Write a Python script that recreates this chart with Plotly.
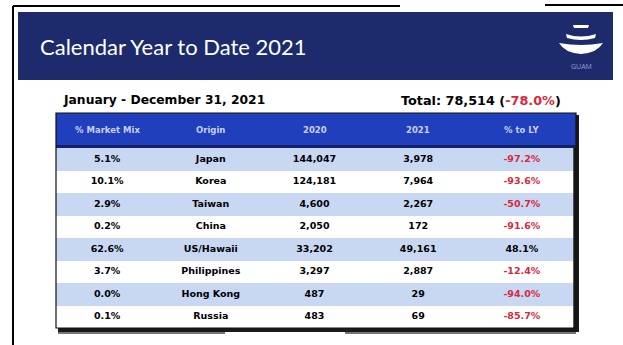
import plotly.graph_objects as go

# ---- data ----
columns = ["% Market Mix", "Origin", "2020", "2021", "% to LY"]
origins = ["Japan", "Korea", "Taiwan", "China", "US/Hawaii", "Philippines", "Hong Kong", "Russia"]
market_mix = ["5.1%", "10.1%", "2.9%", "0.2%", "62.6%", "3.7%", "0.0%", "0.1%"]
arrivals_2020 = [144047, 124181, 4600, 2050, 33202, 3297, 487, 483]
arrivals_2021 = [3978, 7964, 2267, 172, 49161, 2887, 29, 69]
pct_to_ly = [-97.2, -93.6, -50.7, -91.6, 48.1, -12.4, -94.0, -85.7]
total_2021 = 78514
total_change = -78.0
title = "Calendar Year to Date 2021"
period = "January - December 31, 2021"

W, H = 623, 345
NAVY = "#1d2a6c"
HEADER_BLUE = "#203fbd"
ROW_BLUE = "#c8d8f2"
RED = "#d8283c"

tbl_x0, tbl_x1, tbl_hdr, tbl_y0, tbl_y1 = 56, 576, 113, 148, 328


def b(s):
    return f"<b>{s}</b>"


col_text = [
    [b(v) for v in market_mix],
    [b(v) for v in origins],
    [b(f"{v:,}") for v in arrivals_2020],
    [b(f"{v:,}") for v in arrivals_2021],
    [b(f"{v:.1f}%") for v in pct_to_ly],
]
col_colors = [["black"] * len(origins) for _ in range(4)] + [
    [RED if v < 0 else "black" for v in pct_to_ly]
]

# row striping via heatmap on categorical axes
z = [[r % 2 for _ in columns] for r in range(len(origins))]
stripes = go.Heatmap(
    x=columns, y=origins, z=z,
    colorscale=[[0, ROW_BLUE], [1, "white"]], zmin=0, zmax=1,
    showscale=False, hoverinfo="skip", xaxis="x2", yaxis="y2",
)

xs, ys, texts, colors = [], [], [], []
for ci, col in enumerate(columns):
    for ri, org in enumerate(origins):
        xs.append(col)
        ys.append(org)
        texts.append(col_text[ci][ri])
        colors.append(col_colors[ci][ri])

labels = go.Scatter(
    x=xs, y=ys, text=texts, mode="text",
    textfont=dict(family="DejaVu Sans", size=9.5, color=colors),
    hoverinfo="skip", cliponaxis=False, xaxis="x2", yaxis="y2",
)

fig = go.Figure([stripes, labels])

shapes = [
    # outer scan border lines
    dict(type="line", x0=13, x1=13, y0=6, y1=345, line=dict(color="black", width=2)),
    dict(type="line", x0=13, x1=400, y0=6, y1=6, line=dict(color="black", width=2)),
    dict(type="line", x0=545, x1=623, y0=5, y1=5, line=dict(color="black", width=2)),
    # banner
    dict(type="rect", x0=18, x1=613, y0=12, y1=80, fillcolor=NAVY, line=dict(width=0), layer="below"),
    # logo
    dict(type="path", path="M 573 25 L 589 25 L 588 28 L 574 28 Z", fillcolor="white", line=dict(width=0)),
    dict(type="path", path="M 566 34 Q 581 39 596 34 L 595 38 Q 581 42 567 38 Z", fillcolor="white", line=dict(width=0)),
    dict(type="path", path="M 559 43 Q 581 47 603 43 Q 597 53 581 54 Q 565 53 559 43 Z", fillcolor="white", line=dict(width=0)),
    # table shadow, header band & frame
    dict(type="rect", x0=tbl_x0 + 2, x1=tbl_x1 + 3, y0=tbl_hdr + 2, y1=tbl_y1 + 4, fillcolor="#1a1a1a", line=dict(width=0), layer="below"),
    dict(type="rect", x0=tbl_x0, x1=tbl_x1, y0=tbl_hdr, y1=tbl_y0, fillcolor=HEADER_BLUE, line=dict(width=0)),
    dict(type="line", x0=tbl_x0, x1=tbl_x1, y0=tbl_y0 - 1.5, y1=tbl_y0 - 1.5, line=dict(color="#15206a", width=3)),
    dict(type="rect", x0=tbl_x0, x1=tbl_x1, y0=tbl_hdr, y1=tbl_y1, fillcolor="rgba(0,0,0,0)", line=dict(color="#111", width=1.2)),
    # blurred footnote lines
    dict(type="line", x0=58, x1=225, y0=333, y1=333, line=dict(color="#777", width=2)),
    dict(type="line", x0=345, x1=576, y0=333, y1=333, line=dict(color="#777", width=2)),
]
for s in shapes:
    s.update(xref="x", yref="y")

annotations = [
    dict(x=38, y=46, text=title, showarrow=False, xanchor="left", yanchor="middle",
         font=dict(family="Lato", size=22, color="white")),
    dict(x=581, y=66, text="GUAM", showarrow=False, xanchor="center", yanchor="middle",
         font=dict(family="Open Sans", size=7, color="#95a1cc")),
    dict(x=61, y=100, text=b(period), showarrow=False, xanchor="left", yanchor="middle",
         font=dict(family="DejaVu Sans", size=12.3, color="black")),
    dict(x=563, y=100,
         text=b(f"Total: {total_2021:,} (") + f"<span style='color:{RED}'>" + b(f"{total_change:.1f}%") + "</span>" + b(")"),
         showarrow=False, xanchor="right", yanchor="middle",
         font=dict(family="DejaVu Sans", size=12.8, color="black")),
]
for a in annotations:
    a.update(xref="x", yref="y")

# header labels placed on the table's category axis (by category index)
for ci, col in enumerate(columns):
    annotations.append(dict(
        x=ci, y=(tbl_hdr + tbl_y0) / 2 - 1, xref="x2", yref="y", text=b(col),
        showarrow=False, xanchor="center", yanchor="middle",
        font=dict(family="DejaVu Sans", size=8.5, color="#c9cfe8"),
    ))

fig.update_layout(
    width=W, height=H,
    margin=dict(l=0, r=0, t=0, b=0),
    paper_bgcolor="white", plot_bgcolor="rgba(0,0,0,0)",
    xaxis=dict(range=[0, W], visible=False, fixedrange=True, domain=[0, 1]),
    yaxis=dict(range=[H, 0], visible=False, fixedrange=True, domain=[0, 1]),
    xaxis2=dict(type="category", range=[-0.493, 4.522], visible=False, fixedrange=True,
                domain=[tbl_x0 / W, tbl_x1 / W], anchor="y2"),
    yaxis2=dict(type="category", range=[len(origins) - 0.5, -0.5], visible=False, fixedrange=True,
                domain=[1 - tbl_y1 / H, 1 - tbl_y0 / H], anchor="x2"),
    shapes=shapes,
    annotations=annotations,
    showlegend=False,
)

fig.write_html("out.html")
